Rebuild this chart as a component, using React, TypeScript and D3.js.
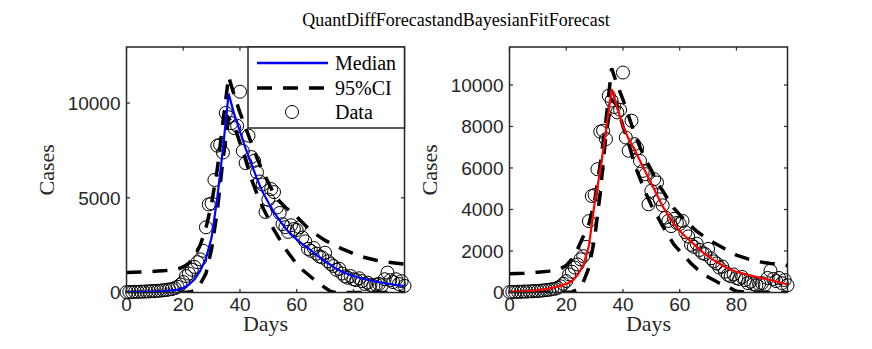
// Two panels: quantile-difference forecast (blue) and Bayesian fit forecast (red) over daily case data.
import * as d3 from "d3";

// daily reported cases, day 0..98
const caseData = [
  20, 30, 15, 40, 30, 50, 40, 60, 55, 80,
  70, 90, 100, 120, 130, 160, 180, 230, 300, 420,
  550, 870, 1000, 1200, 1350, 1600, 1750, 2200, 3440, 4650,
  4700, 5940, 7750, 7800, 7390, 9480, 9250, 8940, 8680, 8800,
  10600, 7470, 6830, 8280, 7150, 6950, 6340, 5860, 5700, 4250,
  4900, 5460, 5300, 4490, 4200, 3610, 3450, 3200, 3550, 3350,
  3300, 3450, 2900, 2700, 2300, 2200, 2350, 2050, 1900, 1850,
  2100, 1650, 1500, 1400, 1200, 1250, 1000, 850, 780, 870,
  700, 650, 750, 600, 450, 520, 400, 350, 420, 450,
  380, 700, 1050, 650, 550, 700, 450, 600, 350,
];

// days at which the fitted curves were read
const curveDays = [
  0, 5, 10, 14, 18, 20, 22, 24, 26, 28, 30, 32, 34, 36, 38, 40, 42, 44, 46, 48,
  50, 52, 54, 56, 58, 60, 62, 64, 66, 68, 70, 72, 74, 76, 78, 80, 84, 88, 92, 96, 98,
];

const quantMedian = [
  20, 30, 45, 80, 150, 230, 420, 700, 1150, 1800, 2900, 5000, 7600, 10500, 9400, 8500, 7600, 6800, 6000, 5300,
  4750, 4250, 3800, 3400, 3050, 2800, 2550, 2350, 2100, 1850, 1650, 1450, 1250, 1100, 980, 870, 700, 570, 460, 380, 340,
];
const quantLower = [
  0, 0, 0, 0, 0, 0, 20, 100, 450, 1000, 2300, 4300, 7000, 9200, 8800, 7900, 7000, 6000, 5200, 4500,
  3900, 3300, 2800, 2300, 1900, 1500, 1200, 950, 700, 480, 250, 60, 0, 0, 0, 0, 0, 0, 0, 0, 0,
];
const quantUpper = [
  1050, 1080, 1120, 1160, 1230, 1350, 1550, 1900, 2500, 3400, 4700, 6500, 9000, 11400, 10400, 9500, 8700, 7900, 7100, 6400,
  5800, 5200, 4800, 4500, 4250, 4000, 3700, 3400, 3150, 2950, 2750, 2600, 2450, 2300, 2180, 2050, 1850, 1700, 1600, 1530, 1500,
];

const bayesMedian = [
  30, 50, 100, 200, 320, 420, 530, 850, 1300, 2250, 4300, 5900, 7800, 9800, 8900, 8000, 7400, 6900, 6350, 5800,
  5250, 4700, 4150, 3700, 3300, 2970, 2700, 2450, 2200, 1950, 1750, 1560, 1400, 1230, 1100, 1000, 850, 720, 600, 460, 390,
];
const bayesLower = [
  0, 0, 0, 0, 0, 0, 30, 150, 500, 1200, 2600, 4800, 7600, 9300, 9000, 8000, 7200, 6200, 5500, 4800,
  4200, 3700, 3200, 2750, 2300, 2000, 1700, 1400, 1150, 950, 750, 600, 450, 350, 200, 60, 0, 0, 0, 0, 0,
];
const bayesUpper = [
  900, 930, 980, 1030, 1150, 1300, 1600, 2100, 2700, 3300, 4400, 6200, 8300, 10800, 10000, 9300, 8500, 7700, 7000, 6400,
  5900, 5300, 4900, 4450, 4050, 3750, 3450, 3200, 2950, 2750, 2570, 2400, 2250, 2100, 1950, 1800, 1620, 1480, 1400, 1350, 1300,
];

const xTicks = [0, 20, 40, 60, 80];
const quantYTicks = [0, 5000, 10000];
const bayesYTicks = [0, 2000, 4000, 6000, 8000, 10000];

const AXIS = "#262626";
const SANS = "'Liberation Sans', Arial, sans-serif";
const SERIF = "'Liberation Serif', 'Times New Roman', serif";

type PanelProps = {
  id: string;
  x0: number;
  x1: number;
  yMax: number;
  yTicks: number[];
  median: number[];
  lower: number[];
  upper: number[];
  color: string;
  legend?: boolean;
};

function Panel({ id, x0, x1, yMax, yTicks, median, lower, upper, color, legend }: PanelProps) {
  const top = 47;
  const bottom = 292.5;
  const x = d3.scaleLinear().domain([0, 98]).range([x0, x1]);
  const y = d3.scaleLinear().domain([0, yMax]).range([bottom, top]);
  const line = d3
    .line<number>()
    .x((_, i) => x(curveDays[i]))
    .y((d) => y(d));
  const tick = 3.5;

  return (
    <g>
      <defs>
        <clipPath id={id}>
          <rect x={x0} y={top} width={x1 - x0} height={bottom - top} />
        </clipPath>
      </defs>

      {/* data */}
      {caseData.map((v, i) => (
        <circle key={i} cx={x(i)} cy={y(v)} r={6.5} fill="none" stroke="#000" strokeWidth={1} />
      ))}

      <g clipPath={`url(#${id})`}>
        <path d={line(upper) ?? ""} fill="none" stroke="#000" strokeWidth={3.5} strokeDasharray="15 11" />
        <path d={line(lower) ?? ""} fill="none" stroke="#000" strokeWidth={3.5} strokeDasharray="15 11" />
        <path d={line(median) ?? ""} fill="none" stroke={color} strokeWidth={2.2} />
      </g>

      {/* box + inward ticks */}
      <rect x={x0} y={top} width={x1 - x0} height={bottom - top} fill="none" stroke={AXIS} strokeWidth={1.5} />
      {xTicks.map((t) => (
        <g key={"x" + t}>
          <line x1={x(t)} x2={x(t)} y1={bottom} y2={bottom - tick} stroke={AXIS} strokeWidth={1.2} />
          <line x1={x(t)} x2={x(t)} y1={top} y2={top + tick} stroke={AXIS} strokeWidth={1.2} />
          <text x={x(t)} y={296} dy="0.78em" textAnchor="middle" fontFamily={SANS} fontSize={19} fill={AXIS}>
            {t}
          </text>
        </g>
      ))}
      {yTicks.map((t) => (
        <g key={"y" + t}>
          <line x1={x0} x2={x0 + tick} y1={y(t)} y2={y(t)} stroke={AXIS} strokeWidth={1.2} />
          <line x1={x1} x2={x1 - tick} y1={y(t)} y2={y(t)} stroke={AXIS} strokeWidth={1.2} />
          <text x={x0 - 6} y={y(t)} dy="0.36em" textAnchor="end" fontFamily={SANS} fontSize={19} fill={AXIS}>
            {t}
          </text>
        </g>
      ))}

      <text x={(x0 + x1) / 2} y={323} dy="0.35em" textAnchor="middle" fontFamily={SERIF} fontSize={22} fill={AXIS}>
        Days
      </text>
      <text
        transform={`translate(${x0 - 80},${(top + bottom) / 2}) rotate(-90)`}
        dy="0.35em"
        textAnchor="middle"
        fontFamily={SERIF}
        fontSize={22}
        fill={AXIS}
      >
        Cases
      </text>

      {legend && (
        <g>
          <rect x={248} y={top} width={x1 - 248} height={81} fill="#fff" stroke={AXIS} strokeWidth={1.5} />
          <line x1={257} x2={328} y1={63} y2={63} stroke={color} strokeWidth={2.5} />
          <line x1={257} x2={328} y1={88} y2={88} stroke="#000" strokeWidth={3.5} strokeDasharray="15 11" />
          <circle cx={292} cy={112} r={6.5} fill="none" stroke="#000" strokeWidth={1} />
          {["Median", "95%CI", "Data"].map((s, i) => (
            <text key={s} x={335} y={63 + i * 24.5} dy="0.35em" fontFamily={SERIF} fontSize={20} fill="#000">
              {s}
            </text>
          ))}
        </g>
      )}
    </g>
  );
}

export default function App() {
  return (
    <svg width={872} height={349} style={{ position: "absolute", left: 0, top: 0, background: "#fff" }}>
      <rect width={872} height={349} fill="#fff" />
      <text x={456} y={20} dy="0.35em" textAnchor="middle" fontFamily={SERIF} fontSize={18} fill="#000">
        QuantDiffForecastandBayesianFitForecast
      </text>
      <Panel
        id="clipQuant"
        x0={126.5}
        x1={404.5}
        yMax={12960}
        yTicks={quantYTicks}
        median={quantMedian}
        lower={quantLower}
        upper={quantUpper}
        color="#0000ff"
        legend
      />
      <Panel
        id="clipBayes"
        x0={509.5}
        x1={787.5}
        yMax={11830}
        yTicks={bayesYTicks}
        median={bayesMedian}
        lower={bayesLower}
        upper={bayesUpper}
        color="#ff0000"
      />
    </svg>
  );
}
